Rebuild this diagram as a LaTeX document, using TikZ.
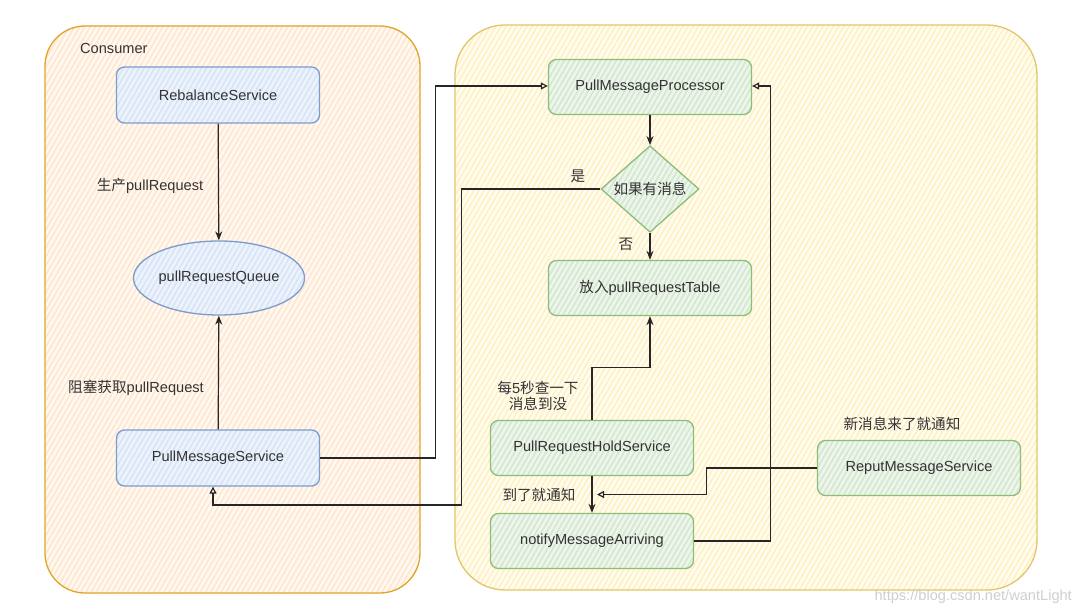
\documentclass[tikz,border=0pt]{standalone}
\usepackage{fontspec}
\setmainfont{Liberation Sans}
\newfontfamily\cjk{Noto Sans CJK SC}
\usetikzlibrary{arrows.meta,shapes.geometric,patterns.meta,calc}
\definecolor{txt}{HTML}{333333}
\definecolor{orfill}{HTML}{FFF9F2}
\definecolor{orhatch}{HTML}{FFE6CF}
\definecolor{orline}{HTML}{E0A526}
\definecolor{yefill}{HTML}{FFFCF0}
\definecolor{yehatch}{HTML}{FFF0C4}
\definecolor{yeline}{HTML}{E2C66A}
\definecolor{blfill}{HTML}{EEF3FB}
\definecolor{blhatch}{HTML}{D6E4F8}
\definecolor{blline}{HTML}{7C9CCB}
\definecolor{grfill}{HTML}{EEF5EC}
\definecolor{grhatch}{HTML}{D3E8CF}
\definecolor{grline}{HTML}{8DBE76}
\definecolor{wm}{HTML}{CFCFCF}
\tikzset{
  x=1pt, y=-1pt,
  every node/.style={font=\fontsize{14.6}{17.5}\selectfont, text=txt},
  hatch/.style={pattern={Lines[angle=60,distance=4.5pt,line width=1.6pt]}},
  contL/.style={draw=orline, line width=1.3pt, rounded corners=40pt, preaction={fill=orfill}, hatch, pattern color=orhatch},
  contR/.style={draw=yeline, line width=1.3pt, rounded corners=50pt, preaction={fill=yefill}, hatch, pattern color=yehatch},
  bluebox/.style={draw=blline, line width=1.3pt, rounded corners=8pt, preaction={fill=blfill}, hatch, pattern color=blhatch, minimum width=203pt, minimum height=56pt},
  greenbox/.style={draw=grline, line width=1.3pt, rounded corners=8pt, preaction={fill=grfill}, hatch, pattern color=grhatch, minimum width=203pt, minimum height=55pt},
  blueell/.style={ellipse, draw=blline, line width=1.3pt, preaction={fill=blfill}, hatch, pattern color=blhatch, minimum width=165pt, minimum height=74pt, inner sep=0pt},
  greendia/.style={diamond, draw=grline, line width=1.3pt, preaction={fill=grfill}, hatch, pattern color=grhatch, minimum width=98pt, minimum height=72pt, inner sep=0pt},
  lbl/.style={inner sep=0pt},
  conn/.style={draw=black!85, line width=1.2pt},
  arr/.style={conn, -{Stealth[length=9pt,width=7pt]}},
  oarr/.style={conn, -{Triangle[open,length=7pt,width=7pt]}},
}
\begin{document}
\begin{tikzpicture}
\useasboundingbox[fill=white] (0,0) rectangle (1080,615);
% containers
\path[contL] (45,26) rectangle (420,593);
\path[contR] (455,25) rectangle (1037,590);
\node[lbl, anchor=west] (consumer) at (80,48) {Consumer};
% left nodes
\node[bluebox] (reb) at (218,95) {RebalanceService};
\node[blueell] (queue) at (219,278) {pullRequestQueue};
\node[bluebox] (pms) at (218,458) {PullMessageService};
\node[lbl] (l1) at (150,186) {{\cjk 生产}pullRequest};
\node[lbl] (l2) at (136,388) {{\cjk 阻塞获取}pullRequest};
% right nodes
\node[greenbox] (pmp) at (650,87) {PullMessageProcessor};
\node[greendia] (dia) at (650,189) {\cjk 如果有消息};
\node[greenbox] (table) at (650,288) {{\cjk 放入}pullRequestTable};
\node[greenbox] (hold) at (592,448) {PullRequestHoldService};
\node[greenbox] (notify) at (592,541) {notifyMessageArriving};
\node[greenbox] (reput) at (919,468) {ReputMessageService};
\node[lbl] (yes) at (578,176) {\cjk 是};
\node[lbl] (no) at (626,244) {\cjk 否};
\node[lbl, align=center] (l3) at (538,396) {{\cjk 每}5{\cjk 秒查一下}\\[-1pt]{\cjk 消息到没}};
\node[lbl] (l4) at (539,495) {\cjk 到了就通知};
\node[lbl] (l5) at (902,424) {\cjk 新消息来了就通知};
\node[lbl, anchor=east, text=wm] (wmk) at (1072,597) {https://blog.csdn.net/wantLight};
% connectors
\draw[arr] (reb) -- (queue);
\draw[arr] (pms) -- (queue);
\draw[oarr] (pms.east) -- ++(115,0) |- ([yshift=1pt]pmp.west);
\draw[arr] (pmp) -- (dia);
\draw[arr] (dia) -- (table);
\draw[oarr] (dia.west) -- ++(-139,0) -- ++(0,316) -| ([xshift=-5pt]pms.south);
\draw[arr] (hold.north) -- ++(0,-52) -| (table.south);
\draw[arr] (hold) -- (notify);
\coordinate (mid) at ($(hold.south)!0.5!(notify.north)+(5,0)$);
\draw[oarr] (reput.west) -- ++(-110,0) |- (mid);
\draw[oarr] (notify.east) -- ++(76,0) |- ([yshift=1pt]pmp.east);
\end{tikzpicture}
\end{document}
